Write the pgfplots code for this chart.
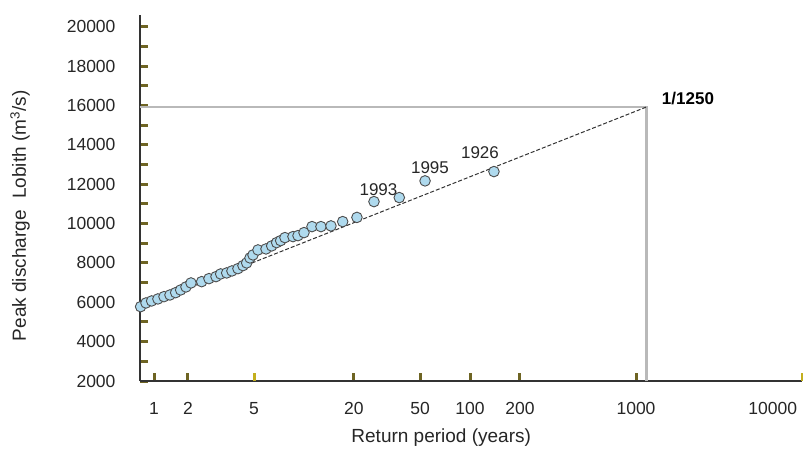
\documentclass[border=0pt]{standalone}
\usepackage{pgfplots}
\pgfplotsset{compat=1.18}
\usepackage{fontspec}
\setmainfont{Liberation Sans}
\definecolor{tickol}{RGB}{110,100,35}
\definecolor{tickye}{RGB}{195,175,30}
\definecolor{ptfill}{RGB}{175,218,238}
\definecolor{gline}{RGB}{185,185,185}
\begin{document}
\begin{tikzpicture}
\useasboundingbox (0,0) rectangle (803pt,448pt);
\begin{axis}[
  at={(140pt,67pt)}, anchor=south west,
  scale only axis, width=662pt, height=366pt,
  xmode=log, xmin=1.028, xmax=10000,
  ymin=2000, ymax=20600,
  axis x line=bottom, axis y line=left,
  axis line style={-, line width=1.2pt, color=black!80},
  xtick={1.25,2,20,50,100,200,1000},
  xticklabels={1,2,20,50,100,200,1000},
  extra x ticks={5,10000},
  extra x tick labels={5,\makebox[0pt][r]{10000\hspace{5pt}}},
  extra x tick style={grid=none, tick style={color=tickye}},
  xminorticks=false,
  scaled y ticks=false,
  ytick={2000,4000,...,20000},
  minor ytick={3000,5000,...,19000},
  tick align=inside,
  major tick length=8.5pt, minor tick length=8.5pt,
  tick style={color=tickol, line width=3pt},
  /pgf/number format/.cd, 1000 sep={}, assume math mode=true, /pgfplots/.cd,
  tick label style={font=\fontsize{17.5}{19}\selectfont, color=black!85},
  xticklabel style={yshift=-18pt},
  yticklabel style={xshift=-21pt},
  xlabel={Return period (years)},
  ylabel={Peak discharge\hspace{0.6em}Lobith (m\textsuperscript{3}/s)},
  label style={font=\fontsize{19}{21}\selectfont, color=black!85},
  xlabel style={at={(axis description cs:0.455,-0.155)}, anchor=center},
  ylabel style={at={(axis description cs:-0.181,0.451)}, anchor=center, rotate=0},
  clip=false,
]
\addplot[gline, line width=2.5pt] coordinates {(1.028,15930) (1160,15930) (1160,2000)};
\addplot[only marks, mark=*, mark size=5.3pt, mark options={fill=ptfill, draw=black!70, line width=0.9pt}] coordinates {
(1.037,5778) (1.117,5966) (1.208,6068) (1.318,6170) (1.434,6287) (1.558,6373)
(1.686,6490) (1.807,6627) (1.945,6780) (2.085,6983) (2.418,7049) (2.676,7202)
(2.950,7304) (3.148,7441) (3.421,7492) (3.681,7593) (4.0,7710) (4.289,7863)
(4.515,8000) (4.727,8255) (4.928,8407) (5.281,8661) (5.902,8712) (6.387,8865)
(6.844,9033) (7.234,9134) (7.68,9287) (8.58,9338) (9.2,9389) (10.0,9541)
(11.17,9846) (12.65,9846) (14.53,9882) (17.1,10100) (20.84,10314)
(26.4,11117) (37.5,11321) (53.6,12170) (139.4,12643)
};
\addplot[black!80, line width=1pt, dash pattern=on 4pt off 2pt] coordinates {(1.03,5750) (1160,15930)};
\node[font=\fontsize{17}{19}\selectfont, color=black!85] at (axis cs:28.1,11712) {1993};
\node[font=\fontsize{17}{19}\selectfont, color=black!85] at (axis cs:57.4,12856) {1995};
\node[font=\fontsize{17}{19}\selectfont, color=black!85] at (axis cs:114.8,13594) {1926};
\node[font=\fontsize{17}{19}\selectfont\bfseries, color=black] at (axis cs:2056,16340) {1/1250};
\end{axis}
\end{tikzpicture}
\end{document}
